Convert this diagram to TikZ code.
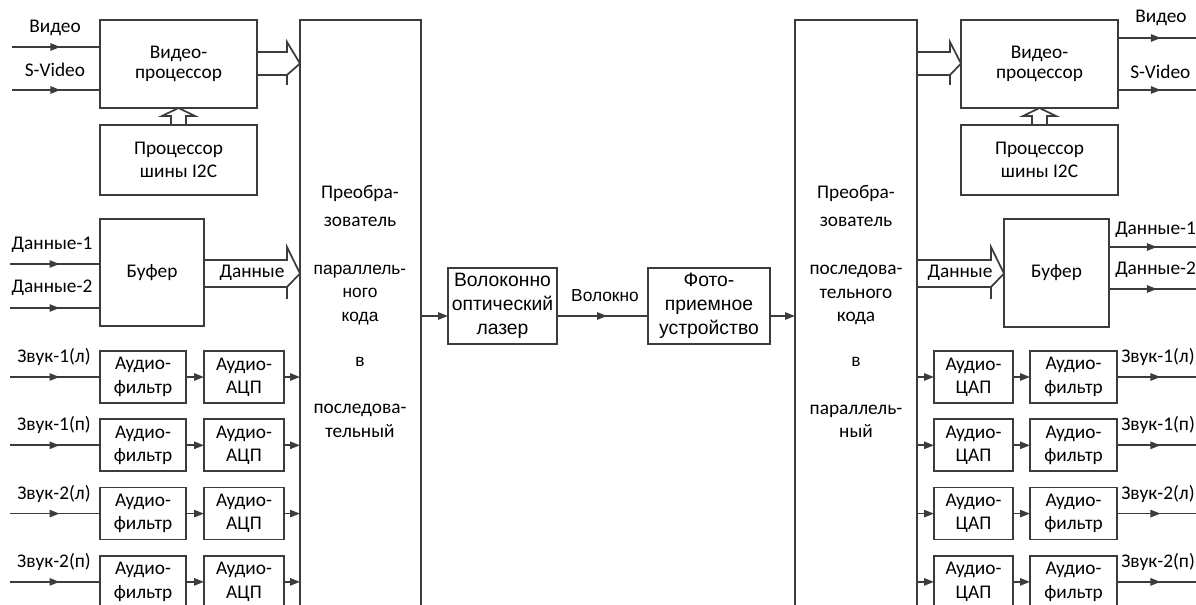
\documentclass[tikz,border=0pt]{standalone}
\usepackage{fontspec}
\setmainfont{Carlito}
\newfontfamily\arialf{Liberation Sans}
\usetikzlibrary{arrows.meta,decorations.markings,calc}

\definecolor{ln}{HTML}{3C3C3C}

% rectangular block given by its corners (x1,y1) and (x2,y2), in pixel units
\newcommand\blk[7][]{%
  \node[box,#1, minimum width={((#5)-(#3))*0.75pt}, minimum height={((#6)-(#4))*0.75pt}]
    (#2) at ({((#3)+(#5))/2},{((#4)+(#6))/2}) {#7};}

\begin{document}
\begin{tikzpicture}[x=0.75pt,y=-0.75pt,
  box/.style={draw=ln, line width=1.3pt, rectangle, inner sep=0pt, outer sep=0pt,
    align=center, font=\fontsize{14.5}{17.5}\selectfont},
  boxa/.style={font=\arialf\fontsize{14.5}{18}\selectfont},
  lbl/.style={font=\fontsize{14.5}{17.5}\selectfont, inner sep=0pt, align=center},
  lbla/.style={font=\arialf\fontsize{13}{17.5}\selectfont, inner sep=0pt, align=center},
  wire/.style={draw=ln, line width=1.3pt},
  tip/.style={-{Triangle[length=7.5pt,width=5.5pt]}},
  midarrow/.style={postaction={decorate}, decoration={markings,
    mark=at position 0.55 with {\arrow{Triangle[length=7.5pt,width=5.5pt]}}}},
  fat/.style={draw=ln, line width=1.3pt, line join=miter},
]
\useasboundingbox (0,0) rectangle (1196,605);
\clip (0,0) rectangle (1196,605);

% ---------------- transmitter side ----------------
\blk{vpL}{100}{20}{257}{108}{Видео-\\[-2pt]процессор}
\blk{i2cL}{100}{125}{257}{195}{Процессор\\шины I2C}
\blk{bufL}{100}{219}{204}{326}{Буфер}
\blk{convL}{300}{20}{421}{720}{}

\node[lbl] (tL1) at (360,206) {Преобра-\\[4pt]зователь};
\node[lbla] (tL2) at (360,295) {параллель-\\ного\\кода};
\node[lbla] (tL3) at (360,362) {в};
\node[lbl] (tL4) at (360,421) {последова-\\тельный};

% video inputs
\coordinate (inV) at (12,47);
\coordinate (inS) at (12,90);
\node[lbl] (lInV) at (55,28) {Видео};
\node[lbl] (lInS) at (55,70) {S-Video};
\draw[wire,midarrow] (inV) -- (vpL.west |- inV);
\draw[wire,midarrow] (inS) -- (vpL.west |- inS);

% data inputs
\coordinate (inD1) at (10,264);
\coordinate (inD2) at (10,308);
\node[lbl] (lInD1) at (52,245) {Данные-1};
\node[lbl] (lInD2) at (52,288) {Данные-2};
\draw[wire,midarrow] (inD1) -- (bufL.west |- inD1);
\draw[wire,midarrow] (inD2) -- (bufL.west |- inD2);

% wide bus arrows into the converter
\draw[fat] (vpL.east |- 0,52) -- ($(convL.west |- 0,52)+(-13,0)$) -- ++(0,-10)
  -- (convL.west |- 0,63.5) -- ($(convL.west |- 0,75)+(-13,0)$) -- ++(0,10) -- ++(0,-10)
  -- (vpL.east |- 0,75);
\draw[fat] (bufL.east |- 0,260) -- ($(convL.west |- 0,260)+(-13,0)$) -- ++(0,-13)
  -- (convL.west |- 0,273.5) -- ($(convL.west |- 0,287)+(-13,0)$) -- ++(0,12) -- ++(0,-12)
  -- (bufL.east |- 0,287);
\node[lbl] (lDatL) at (252,273) {Данные};
\draw[fat] ($(i2cL.north)+(-7.5,0)$) -- ++(0,-9) -- ++(-9,0) -- (vpL.south)
  -- ($(i2cL.north)+(16.5,-9)$) -- ++(-9,0) -- ++(0,9);

% audio channels
\foreach \k/\t in {0/Звук-1(л),1/Звук-1(п),2/Звук-2(л),3/Звук-2(п)}{
  \pgfmathsetmacro\yc{377+68.3*\k}
  \blk{fL\k}{100}{\yc-26}{186}{\yc+26}{Аудио-\\фильтр}
  \blk{aL\k}{204}{\yc-26}{284}{\yc+26}{Аудио-\\АЦП}
  \coordinate (inA\k) at (10,\yc);
  \node[lbl] (lInA\k) at (54,\yc-20) {\t};
  \draw[wire,midarrow] (inA\k) -- (fL\k.west);
  \draw[wire,tip] (fL\k.east) -- (aL\k.west);
  \draw[wire,tip] (aL\k.east) -- (convL.west |- aL\k.east);
}

% ---------------- optical link ----------------
\blk[boxa]{laser}{448}{268}{557}{344}{Волоконно\\оптический\\лазер}
\blk[boxa]{photo}{648}{268}{770}{344}{Фото-\\приемное\\устройство}
\node[font=\arialf\fontsize{13}{15}\selectfont, inner sep=0pt] (lFib) at (605,296) {Волокно};
\draw[wire,tip] (convL.east |- 0,316) -- (laser.west |- 0,316);
\draw[wire,midarrow] (laser.east |- 0,316) -- (photo.west |- 0,316);

% ---------------- receiver side ----------------
\blk{convR}{795}{20}{917}{720}{}
\blk{vpR}{961}{20}{1118}{108}{Видео-\\[-2pt]процессор}
\blk{i2cR}{961}{125}{1118}{195}{Процессор\\шины I2C}
\blk{bufR}{1004}{219}{1109}{327}{Буфер}

\draw[wire,tip] (photo.east |- 0,316) -- (convR.west |- 0,316);

\node[lbl] (tR1) at (856,206) {Преобра-\\[4pt]зователь};
\node[lbl] (tR2) at (856,295) {последова-\\тельного\\кода};
\node[lbl] (tR3) at (856,362) {в};
\node[lbl] (tR4) at (856,421) {параллель-\\ный};

% wide bus arrows out of the converter
\draw[fat] (convR.east |- 0,52) -- ($(vpR.west |- 0,52)+(-11,0)$) -- ++(0,-10)
  -- (vpR.west |- 0,63.5) -- ($(vpR.west |- 0,75)+(-11,0)$) -- ++(0,10) -- ++(0,-10)
  -- (convR.east |- 0,75);
\draw[fat] (convR.east |- 0,260) -- ($(bufR.west |- 0,260)+(-13,0)$) -- ++(0,-13)
  -- (bufR.west |- 0,273.5) -- ($(bufR.west |- 0,287)+(-13,0)$) -- ++(0,12) -- ++(0,-12)
  -- (convR.east |- 0,287);
\node[lbl] (lDatR) at (960,273) {Данные};
\draw[fat] ($(i2cR.north)+(-7.5,0)$) -- ++(0,-9) -- ++(-9,0) -- (vpR.south)
  -- ($(i2cR.north)+(16.5,-9)$) -- ++(-9,0) -- ++(0,9);

% video outputs
\coordinate (outV) at (1196,38);
\coordinate (outS) at (1196,90);
\node[lbl,anchor=west] (lOutV) at (1135,18) {Видео};
\node[lbl,anchor=west] (lOutS) at (1130,72) {S-Video};
\draw[wire,midarrow] (vpR.east |- outV) -- (outV);
\draw[wire,midarrow] (vpR.east |- outS) -- (outS);

% data outputs
\coordinate (outD1) at (1196,247);
\coordinate (outD2) at (1196,289);
\node[lbl,anchor=west] (lOutD1) at (1115,230) {Данные-1};
\node[lbl,anchor=west] (lOutD2) at (1115,270) {Данные-2};
\draw[wire,midarrow] (bufR.east |- outD1) -- (outD1);
\draw[wire,midarrow] (bufR.east |- outD2) -- (outD2);

% audio channels
\foreach \k/\t in {0/Звук-1(л),1/Звук-1(п),2/Звук-2(л),3/Звук-2(п)}{
  \pgfmathsetmacro\yc{377+68.3*\k}
  \blk{dR\k}{934}{\yc-26}{1013}{\yc+26}{Аудио-\\ЦАП}
  \blk{fR\k}{1030}{\yc-26}{1117}{\yc+26}{Аудио-\\фильтр}
  \coordinate (outA\k) at (1196,\yc);
  \node[lbl,anchor=west] (lOutA\k) at (1121,\yc-20) {\t};
  \draw[wire,tip] (convR.east |- dR\k.west) -- (dR\k.west);
  \draw[wire,tip] (dR\k.east) -- (fR\k.west);
  \draw[wire,midarrow] (fR\k.east) -- (outA\k);
}
\end{tikzpicture}
\end{document}
